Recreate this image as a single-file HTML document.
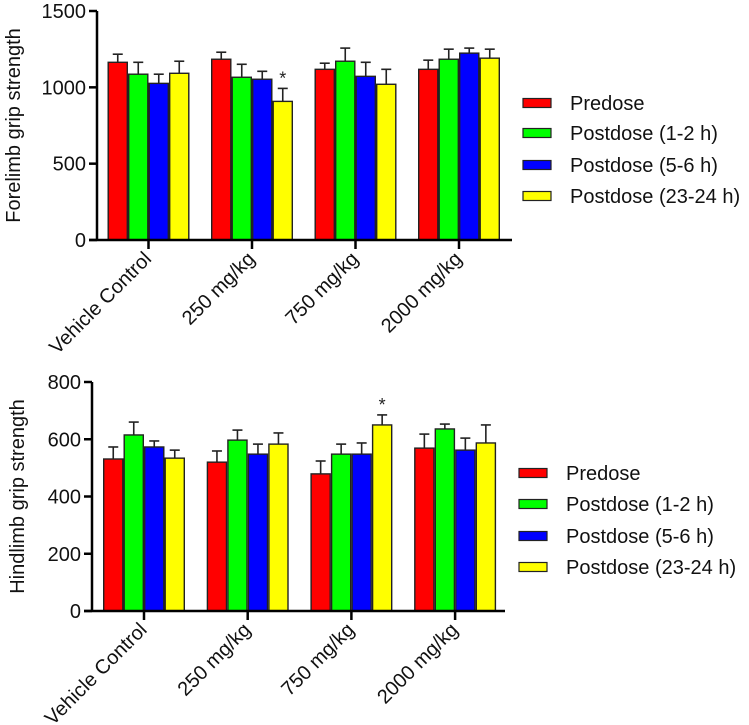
<!DOCTYPE html>
<html><head><meta charset="utf-8"><style>
html,body{margin:0;padding:0;background:#fff}
svg{display:block;font-family:"Liberation Sans",Arial,sans-serif}
</style></head><body>
<svg id="c" width="749" height="725" viewBox="0 0 749 725"></svg>
<script>
const categories = ["Vehicle Control","250 mg/kg","750 mg/kg","2000 mg/kg"];
const seriesNames = ["Predose","Postdose (1-2 h)","Postdose (5-6 h)","Postdose (23-24 h)"];
const seriesColors = ["#ff0000","#00ff00","#0000ff","#ffff00"];
const foreValues = [[1164,1184,1118,1118],[1086,1066,1171,1184],[1026,1053,1072,1224],[1092,908,1020,1191]];
const foreErrors = [[53,46,40,60],[78,85,86,66],[60,52,92,33],[79,85,98,59]];
const foreTicks = [0,500,1000,1500];
const foreStars = [[1,3]];
const hindValues = [[531,520,479,569],[615,597,548,636],[573,548,548,562],[534,583,650,587]];
const hindErrors = [[42,39,45,49],[45,35,35,17],[21,35,39,42],[28,39,35,63]];
const hindTicks = [0,200,400,600,800];
const hindStars = [[2,3]];

const NS="http://www.w3.org/2000/svg";
const svg=document.getElementById('c');
function mk(tag,attrs,parent){const e=document.createElementNS(NS,tag);for(const k in attrs)e.setAttribute(k,attrs[k]);(parent||svg).appendChild(e);return e;}

function chart(cfg){
  const g=mk('g',{});
  
  
  const ymax=cfg.ticks[cfg.ticks.length-1];
  const yS=v=>cfg.y0-(v/ymax)*(cfg.y0-cfg.yTop);
  const xC=i=>cfg.c0+i*cfg.step;
  const bw=20.5;
  for(let s=0;s<4;s++){
    for(let i=0;i<categories.length;i++){
      const v=cfg.values[s][i], e=cfg.errors[s][i];
      const x=xC(i)-2*bw+s*bw;
      const cx=x+bw/2;
      const el=mk('line',{x1:cx,x2:cx,y1:yS(v),y2:yS(v+e),stroke:'#222','stroke-width':1.6},g);
      
      
      const cap=mk('line',{x1:cx-5,x2:cx+5,y1:yS(v+e),y2:yS(v+e),stroke:'#222','stroke-width':1.6},g);
      
      
      const r=mk('rect',{x:x+0.7,y:yS(v),width:bw-1.4,height:cfg.y0-yS(v),fill:seriesColors[s],stroke:'#222','stroke-width':1.4},g);
      
      
    }
  }
  cfg.stars.forEach(([i,s])=>{
    const x=xC(i)-2*bw+s*bw+bw/2;
    const t=mk('text',{x:x,y:yS(cfg.values[s][i]+cfg.errors[s][i])-4,'text-anchor':'middle','font-size':18,fill:'#222'},g);
    t.textContent='*';
    
    
  });
  const ya=mk('line',{x1:cfg.ax,x2:cfg.ax,y1:cfg.yTop,y2:cfg.y0+1,stroke:'#000','stroke-width':2.5},g);
  
  
  const xa=mk('line',{x1:cfg.ax-8,x2:cfg.axEnd,y1:cfg.y0,y2:cfg.y0,stroke:'#000','stroke-width':2.5},g);
  
  
  cfg.ticks.forEach(t=>{
    const y=yS(t);
    mk('line',{x1:cfg.ax-8,x2:cfg.ax,y1:y,y2:y,stroke:'#000','stroke-width':2.5},g);
    const tx=mk('text',{x:cfg.ax-11,y:y+7,'text-anchor':'end','font-size':20,fill:'#111'},g);
    tx.textContent=t;
    
    
  });
  categories.forEach((c,i)=>{
    const x=xC(i);
    mk('line',{x1:x,x2:x,y1:cfg.y0,y2:cfg.y0+9,stroke:'#000','stroke-width':2.5},g);
    const tx=mk('text',{x:x+4,y:cfg.y0+20,'text-anchor':'end','font-size':20,fill:'#111',transform:`rotate(-45 ${x+4} ${cfg.y0+20})`},g);
    tx.textContent=c;
    
    
  });
  const yt=mk('text',{x:cfg.titleX,y:(cfg.y0+cfg.yTop)/2,'text-anchor':'middle','font-size':20,fill:'#111',transform:`rotate(-90 ${cfg.titleX} ${(cfg.y0+cfg.yTop)/2})`},g);
  yt.textContent=cfg.title;
  
  
  seriesNames.forEach((n,s)=>{
    const y=cfg.legY[s];
    const r=mk('rect',{x:cfg.legX,y:y-4.5,width:28,height:9,fill:seriesColors[s],stroke:'#222','stroke-width':1.2},g);
    
    
    const t=mk('text',{x:cfg.legX+47,y:y+7,'font-size':20,fill:'#111'},g);
    t.textContent=n;
    
    
  });
}
chart({name:'forelimb-chart',values:foreValues,errors:foreErrors,ticks:foreTicks,stars:foreStars,
  y0:240,yTop:11,ax:97,axEnd:512,c0:148.5,step:103.5,title:'Forelimb grip strength',titleX:20,
  legX:523,legY:[103,133,165,196]});
chart({name:'hindlimb-chart',values:hindValues,errors:hindErrors,ticks:hindTicks,stars:hindStars,
  y0:611,yTop:382,ax:92,axEnd:505,c0:144,step:103.7,title:'Hindlimb grip strength',titleX:24,
  legX:519,legY:[473,504,536,567]});
</script>
</body></html>
